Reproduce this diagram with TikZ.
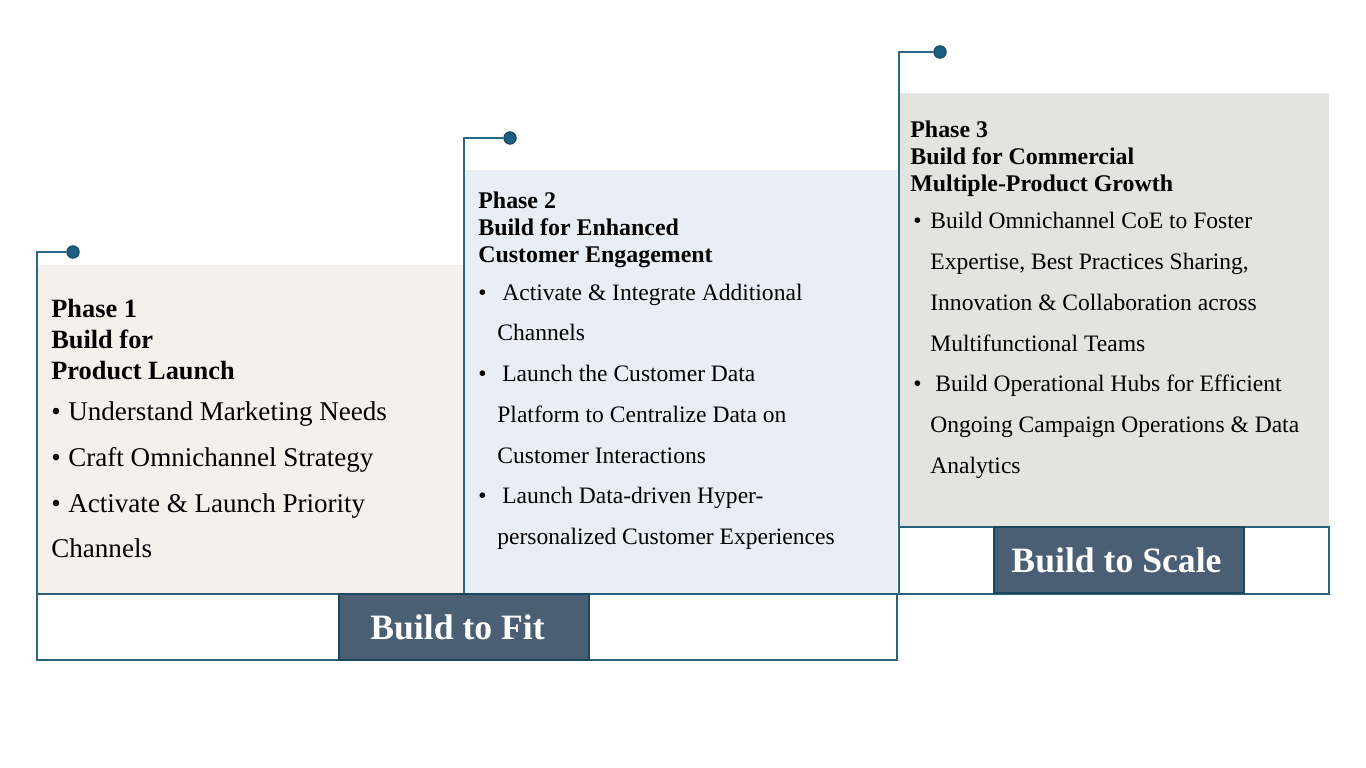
\documentclass[tikz,border=0pt]{standalone}
\usepackage{fontspec}
\setmainfont{Liberation Serif}
\usepackage{xcolor}
\usetikzlibrary{positioning}

\definecolor{leadline}{HTML}{2A6686}
\definecolor{dotfill}{HTML}{1B5E82}
\definecolor{dotedge}{HTML}{123F58}
\definecolor{frameline}{HTML}{2C5F7C}
\definecolor{stagefill}{HTML}{4A5F74}
\definecolor{stageedge}{HTML}{1A4660}
\definecolor{launchfill}{HTML}{F4F1EA}
\definecolor{engagefill}{HTML}{E8EEF5}
\definecolor{growthfill}{HTML}{E3E3DF}

\newcommand{\bul}[1]{\makebox[#1][l]{\textbullet}}

\begin{document}
\begin{tikzpicture}[
    x=0.2mm, y=-0.2mm,
    dot/.style={circle, fill=dotfill, draw=dotedge, line width=0.5pt, minimum size=2.5mm, inner sep=0pt},
    lead/.style={draw=leadline, line width=1pt},
    frame/.style={draw=frameline, line width=0.8pt},
    stage/.style={fill=stagefill, draw=stageedge, line width=1.3pt, text=white, font=\fontsize{20.3}{23}\selectfont\bfseries, minimum width=50mm, minimum height=13.2mm, inner sep=0pt},
    headA/.style={anchor=north west, inner sep=0pt, align=left, font=\fontsize{15}{17.6}\selectfont\bfseries},
    headB/.style={anchor=north west, inner sep=0pt, align=left, font=\fontsize{13.6}{15.3}\selectfont\bfseries},
    bodyA/.style={inner sep=0pt, align=left, font=\fontsize{15.4}{26.1}\selectfont},
    bodyB/.style={inner sep=0pt, align=left, font=\fontsize{13.4}{23.2}\selectfont}
]
\useasboundingbox (0,0) rectangle (1366,768);

\fill[launchfill] (37,265) rectangle (463,594);
\fill[engagefill] (464,170) rectangle (897,594);
\fill[growthfill] (899,93) rectangle (1329,527);
\draw[frame] (37,594) rectangle (897,660);
\draw[frame] (899,527) rectangle (1329,594);

\node[dot] (dot1) at (73,252) {};
\node[dot] (dot2) at (510,138) {};
\node[dot] (dot3) at (940,52) {};
\coordinate (foot1) at (37,660);
\coordinate (foot2) at (464,594);
\coordinate (foot3) at (899,594);
\draw[lead] (dot1) -| (foot1);
\draw[lead] (dot2) -| (foot2);
\draw[lead] (dot3) -| (foot3);

\node[stage] (fit) at (464,627) {Build to Fit\hspace*{2.6mm}};
\node[stage] (scale) at (1119,560) {Build to Scale\hspace*{1mm}};

\node[headA] (head1) at (51,299) {Phase 1\\Build for\\Product Launch};
\node[bodyA, below=4.2mm of head1.south west, anchor=north west] (body1) {\bul{3.4mm}Understand Marketing Needs\\
\bul{3.4mm}Craft Omnichannel Strategy\\
\bul{3.4mm}Activate \& Launch Priority\\
Channels};

\node[headB] (head2) at (478,192) {Phase 2\\Build for Enhanced\\Customer Engagement};
\node[bodyB, below=3mm of head2.south west, anchor=north west] (body2) {\bul{4.8mm}Activate \& Integrate Additional\\
\hspace*{3.8mm}Channels\\
\bul{4.8mm}Launch the Customer Data\\
\hspace*{3.8mm}Platform to Centralize Data on\\
\hspace*{3.8mm}Customer Interactions\\
\bul{4.8mm}Launch Data-driven Hyper-\\
\hspace*{3.8mm}personalized Customer Experiences};

\node[headB] (head3) at (910,121) {Phase 3\\Build for Commercial\\Multiple-Product Growth};
\node[bodyB, below=3mm of head3.south west, anchor=north west] (body3) {\hspace*{0.6mm}\bul{3.4mm}Build Omnichannel CoE to Foster\\
\hspace*{4mm}Expertise, Best Practices Sharing,\\
\hspace*{4mm}Innovation \& Collaboration across\\
\hspace*{4mm}Multifunctional Teams\\
\hspace*{0.6mm}\bul{4.4mm}Build Operational Hubs for Efficient\\
\hspace*{4mm}Ongoing Campaign Operations \& Data\\
\hspace*{4mm}Analytics};
\end{tikzpicture}
\end{document}
